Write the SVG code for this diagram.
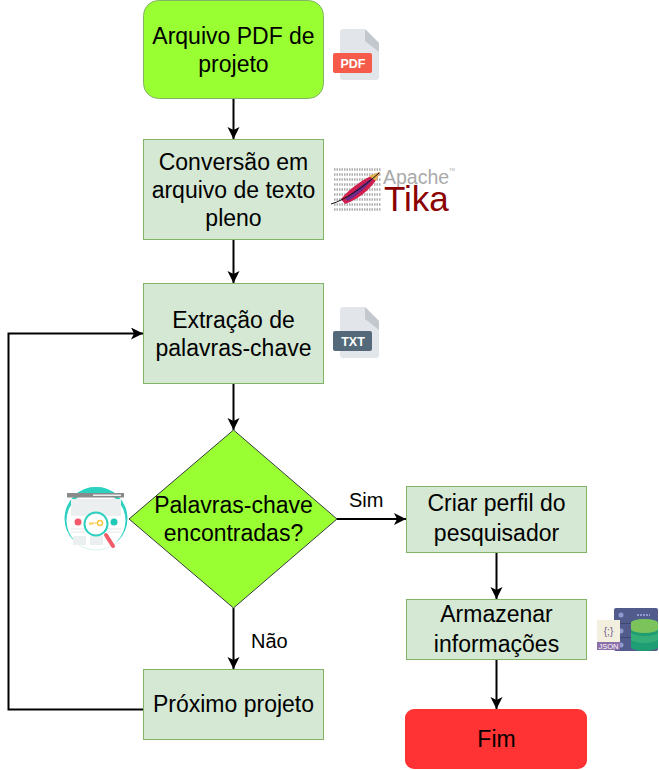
<svg xmlns="http://www.w3.org/2000/svg" width="659" height="770" viewBox="0 0 659 770">
<style>
text{font-family:"Liberation Sans",Arial,sans-serif}
.t{font-size:23px;fill:#000;text-anchor:middle}
.l{font-size:20px;fill:#000}
.g{fill:#d5e8d4;stroke:#82b366;stroke-width:1}
.y{fill:#99ff33;stroke:#82b366;stroke-width:1}
.c{fill:none;stroke:#000;stroke-width:2}
.doc{fill:#e2e5e9}
.fold{fill:#c3c8cf}
.b{font-size:12.500px;font-weight:bold;fill:#fff;text-anchor:middle}
</style>
<defs>
<marker id="a" markerUnits="userSpaceOnUse" markerWidth="13" markerHeight="14" refX="12" refY="6" orient="auto"><path d="M0 0L12 6L0 12L3 6Z" fill="#000"/></marker>
<g id="file"><path class="doc" d="M343 29H365L379 43V77a3 3 0 0 1-3 3H343a3 3 0 0 1-3-3V32a3 3 0 0 1 3-3Z"/><path class="fold" d="M365 29L379 43V52L365 41Z"/></g>
</defs>
<g id="connectors">
<path class="c" marker-end="url(#a)" d="M233.500 99V139"/>
<path class="c" marker-end="url(#a)" d="M233.500 239V283"/>
<path class="c" marker-end="url(#a)" d="M233.500 383V430"/>
<path class="c" marker-end="url(#a)" d="M233.500 608V669"/>
<path class="c" marker-end="url(#a)" d="M337 519H406"/>
<path class="c" marker-end="url(#a)" d="M496.500 552V599"/>
<path class="c" marker-end="url(#a)" d="M496.500 659V709"/>
<path class="c" marker-end="url(#a)" d="M143 709.500H8.500V333.500H143"/>
</g>
<g id="n1"><rect x="143.500" y="0.500" width="180" height="98" rx="15" class="y"/><text class="t" x="233.500" y="44">Arquivo PDF de</text><text class="t" x="233.500" y="72">projeto</text></g>
<g id="n2"><rect x="143.500" y="139.500" width="180" height="100" class="g"/><text class="t" x="233.500" y="170">Conversão em</text><text class="t" x="233.500" y="198">arquivo de texto</text><text class="t" x="233.500" y="226">pleno</text></g>
<g id="n3"><rect x="143.500" y="283.500" width="180" height="100" class="g"/><text class="t" x="233.500" y="328">Extração de</text><text class="t" x="233.500" y="356">palavras-chave</text></g>
<g id="n4"><path d="M233.500 430L337 519L233.500 608L129 519Z" fill="#99ff33" stroke="#36393d" stroke-width="1"/><text class="t" x="233.500" y="513">Palavras-chave</text><text class="t" x="233.500" y="541">encontradas?</text></g>
<g id="n5"><rect x="143.500" y="669.500" width="180" height="70" class="g"/><text class="t" x="233.500" y="712">Próximo projeto</text></g>
<g id="n6"><rect x="406.500" y="486.500" width="180" height="66" class="g"/><text class="t" x="496.500" y="511">Criar perfil do</text><text class="t" x="496.500" y="541">pesquisador</text></g>
<g id="n7"><rect x="406.500" y="599.500" width="180" height="60" class="g"/><text class="t" x="496.500" y="622">Armazenar</text><text class="t" x="496.500" y="652">informações</text></g>
<g id="n8"><rect x="405" y="709" width="182" height="60" rx="9" fill="#ff3333"/><text class="t" x="496.500" y="747">Fim</text></g>
<text class="l" x="349" y="507">Sim</text>
<text class="l" x="251" y="648">Não</text>
<g id="icon-pdf"><use href="#file"/><rect x="333" y="53" width="39" height="20" rx="2" fill="#f65a4a"/><text class="b" x="353" y="68">PDF</text></g>
<g id="icon-tika">
<path d="M334 169.500H381M334 174.500H381M334 179.500H381M334 184.500H381M334 189.500H381M334 194.500H381M334 199.500H381M334 204.500H381M334 209.500H381" stroke="#8a8a8a" stroke-width="2.500" stroke-dasharray="1.500 1" opacity=".7" fill="none"/>
<path d="M341 199C350 188 364 178 380 172C376 184 362 198 345 204Z" fill="#d11f4e"/>
<path d="M345 199C354 191 364 183 375 176C368 186 356 196 348 201Z" fill="#6b2a8c"/>
<path d="M369 176L380 172L376 181Z" fill="#e3b04a"/>
<path d="M331 204C345 200 362 188 379 173" fill="none" stroke="#111" stroke-width="1"/>
<text x="383" y="184" font-size="19.500" fill="#aaa">Apache</text>
<text x="449" y="171" font-size="4" fill="#aaa">TM</text>
<text x="384" y="211" font-size="35" fill="#8b0000">Tika</text>
</g>
<g id="icon-txt"><use href="#file" y="278"/><rect x="333" y="331" width="39" height="20" rx="2" fill="#546a7b"/><text class="b" x="353" y="346">TXT</text></g>
<g id="icon-search">
<circle cx="96" cy="518.500" r="31.500" fill="#2bd0bf"/>
<circle cx="96" cy="520.500" r="29.500" fill="#fff"/>
<path d="M75 495a31.500 31.500 0 0 1 42 0Z" fill="#2bd0bf"/>
<path d="M75 541a31.500 31.500 0 0 0 42 0V551H75Z" fill="#fff"/>
<path d="M72 539a31.500 31.500 0 0 0 48 0" fill="none" stroke="#d9f5f1"/>
<rect x="67" y="493" width="57" height="4.500" fill="#8a8a8a"/>
<rect x="93" y="494.500" width="28" height="1.500" fill="#eee"/>
<rect x="71" y="499" width="50" height="17" fill="#eceff0"/>
<circle cx="78" cy="522" r="3.500" fill="#f45b69"/>
<circle cx="114" cy="522" r="3.500" fill="#1fc8b8"/>
<path d="M71 529H84M71 532H84M108 529H121M108 532H121" stroke="#e4e7e8"/>
<rect x="73" y="536" width="13" height="9" fill="#eceff0"/><rect x="90" y="536" width="13" height="9" fill="#eceff0"/>
<path d="M106 535L113 546" stroke="#f45b69" stroke-width="4" stroke-linecap="round"/>
<circle cx="96" cy="524" r="11.500" fill="#fff" stroke="#2bd0bf" stroke-width="2"/>
<circle cx="100" cy="523" r="2.500" fill="none" stroke="#f5c842" stroke-width="1.500"/>
<path d="M89 523H97M90 523V525M92 523V525" stroke="#f5c842" stroke-width="1.200" fill="none"/>
</g>
<g id="icon-json">
<rect x="614" y="608" width="44" height="43" rx="2" fill="#515c8c"/>
<path d="M614 623.500H658M614 637.500H658" stroke="#3f4870"/>
<circle cx="621" cy="615" r="2.500" fill="#8e9ad0"/><circle cx="621" cy="631" r="2.500" fill="#8e9ad0"/><circle cx="621" cy="645" r="2.500" fill="#8e9ad0"/>
<path d="M637 615H650" stroke="#8e9ad0" stroke-width="2" stroke-dasharray="2 1"/>
<rect x="597" y="620" width="23" height="22" fill="#f3efdf"/>
<rect x="597" y="642" width="23" height="8" fill="#8b6fa8"/>
<text x="608.500" y="635" font-size="10" fill="#6f5c8c" text-anchor="middle" font-family="Liberation Mono">{;}</text>
<text x="608.500" y="649" font-size="7.500" fill="#fff" text-anchor="middle">JSON</text>
<path d="M631 623a13.500 4 0 0 1 27 0V647a13.500 4 0 0 1-27 0Z" fill="#1f9d73"/>
<path d="M631 623a13.500 4 0 0 1 27 0V629a13.500 4 0 0 1-27 0Z" fill="#7cc35b"/>
<path d="M631 632a13.500 4 0 0 0 27 0V639a13.500 4 0 0 1-27 0Z" fill="#35ad79"/>
</g>
</svg>
